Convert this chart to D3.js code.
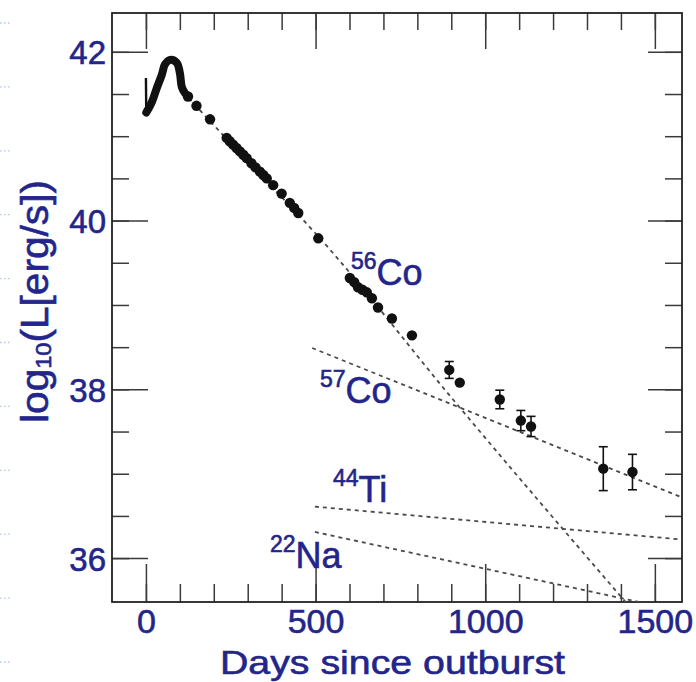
<!DOCTYPE html>
<html>
<head>
<meta charset="utf-8">
<script src="https://cdn.jsdelivr.net/npm/d3@7"></script>
<style>
  body { margin: 0; background: #fff; }
</style>
</head>
<body>
<div id="chart"></div>
<script>
// SN 1987A bolometric light curve
// initial flash (thin stroke) and the rise to the peak (thick stroke)
const flashDays = [0, 1];
const flashLog = [41.69, 41.28];
const riseDays = [1, 18, 32, 47, 56, 71, 91, 100, 106, 115];
const riseLog = [41.28, 41.41, 41.57, 41.73, 41.85, 41.905, 41.87, 41.75, 41.58, 41.51];

// later measurements (dots), with error bars where drawn
const pointDays = [124, 149, 189, 238, 247, 257, 267, 277, 287, 297, 311, 323, 336, 346, 356, 375, 400, 424, 437, 449, 508,
  601, 614, 625, 638, 651, 666, 684, 725, 784, 894, 925, 1043, 1105, 1135, 1348, 1434];
const pointLog = [41.47, 41.36, 41.20, 40.98, 40.94, 40.90, 40.86, 40.82, 40.78, 40.74, 40.68, 40.63, 40.58, 40.54, 40.50, 40.42, 40.32, 40.21, 40.15, 40.09, 39.79,
  39.32, 39.27, 39.21, 39.18, 39.15, 39.08, 38.97, 38.84, 38.64, 38.23, 38.08, 37.88, 37.63, 37.56, 37.06, 37.02];
const pointErr = [0, 0, 0, 0, 0, 0, 0, 0, 0, 0, 0, 0, 0, 0, 0, 0, 0, 0, 0, 0, 0,
  0, 0, 0, 0, 0, 0, 0, 0, 0, 0.10, 0, 0.11, 0.12, 0.12, 0.26, 0.21];

// radioactive decay contributions (dashed curves)
const isotopes = ["56Co", "57Co", "44Ti", "22Na"];
const decayDays = [
  [110, 300, 513, 905, 1420],
  [490, 1580],
  [498, 1580],
  [498, 1580]
];
const decayLog = [
  [41.52, 40.70, 39.79, 37.88, 35.45],
  [38.49, 36.72],
  [36.61, 36.22],
  [36.31, 35.37]
];

const xTicks = [0, 500, 1000, 1500];
const xMinorTicks = d3.range(0, 1501, 100);
const yTicks = [36, 38, 40, 42];
const yMinorTicks = d3.range(36, 42.01, 0.5);

const width = 696;
const height = 682;
const marginTop = 13;
const marginRight = 14;
const marginBottom = 80;
const marginLeft = 112;

const blue = "#23258a";
const font = "'Liberation Sans', Arial, sans-serif";

const x = d3.scaleLinear()
  .domain([-100, 1580])
  .range([marginLeft, width - marginRight]);

const y = d3.scaleLinear()
  .domain([35.48, 42.46])
  .range([height - marginBottom, marginTop]);

const svg = d3.select("#chart").append("svg")
  .attr("width", width)
  .attr("height", height)
  .style("background", "#fff");

// faint dotted marks at the slide's left edge
for (let i = 0; i < 11; i++) {
  svg.append("line")
    .attr("x1", 0).attr("x2", 10)
    .attr("y1", 23 + i * 63.9).attr("y2", 23 + i * 63.9)
    .attr("stroke", "#b4c6ea").attr("stroke-width", 1.3)
    .attr("stroke-dasharray", "1.5,2.5");
}

const x0 = marginLeft, x1 = width - marginRight;
const y0 = marginTop, y1 = height - marginBottom;

function styleAxis(g) {
  g.select(".domain").remove();
  g.selectAll(".tick line").attr("stroke", "#3a3a3a").attr("stroke-width", 1.5);
  g.attr("font-family", font);
  g.selectAll("text").attr("fill", blue).attr("stroke", blue).attr("stroke-width", 0.6);
}

// minor ticks on all four sides
svg.append("g").attr("transform", `translate(0,${y1})`)
  .call(d3.axisBottom(x).tickValues(xMinorTicks).tickSize(-18).tickSizeOuter(0).tickFormat(""))
  .call(styleAxis);
svg.append("g").attr("transform", `translate(0,${y0})`)
  .call(d3.axisTop(x).tickValues(xMinorTicks).tickSize(-17).tickSizeOuter(0).tickFormat(""))
  .call(styleAxis);
svg.append("g").attr("transform", `translate(${x0},0)`)
  .call(d3.axisLeft(y).tickValues(yMinorTicks).tickSize(-17).tickSizeOuter(0).tickFormat(""))
  .call(styleAxis);
svg.append("g").attr("transform", `translate(${x1},0)`)
  .call(d3.axisRight(y).tickValues(yMinorTicks).tickSize(-17).tickSizeOuter(0).tickFormat(""))
  .call(styleAxis);

// major ticks with labels
svg.append("g").attr("transform", `translate(0,${y1})`)
  .call(d3.axisBottom(x).tickValues(xTicks).tickSize(-38).tickSizeOuter(0).tickPadding(7).tickFormat(d3.format("d")))
  .call(styleAxis)
  .attr("font-size", 34);
svg.append("g").attr("transform", `translate(0,${y0})`)
  .call(d3.axisTop(x).tickValues(xTicks).tickSize(-36).tickSizeOuter(0).tickFormat(""))
  .call(styleAxis);
svg.append("g").attr("transform", `translate(${x0},0)`)
  .call(d3.axisLeft(y).tickValues(yTicks).tickSize(-36).tickSizeOuter(0).tickPadding(6).tickFormat(d3.format("d")))
  .call(styleAxis)
  .attr("font-size", 33)
  .call(g => g.selectAll("text").attr("dy", "0.36em"));
svg.append("g").attr("transform", `translate(${x1},0)`)
  .call(d3.axisRight(y).tickValues(yTicks).tickSize(-34).tickSizeOuter(0).tickFormat(""))
  .call(styleAxis);

// frame
svg.append("rect")
  .attr("x", x0).attr("y", y0)
  .attr("width", x1 - x0).attr("height", y1 - y0)
  .attr("fill", "none")
  .attr("stroke", "#222")
  .attr("stroke-width", 1.8);

svg.append("clipPath").attr("id", "plot-clip")
  .append("rect")
  .attr("x", x0).attr("y", y0)
  .attr("width", x1 - x0).attr("height", y1 - y0);

const plot = svg.append("g").attr("clip-path", "url(#plot-clip)");

const line = d3.line()
  .x(d => x(d[0]))
  .y(d => y(d[1]));

// dashed decay curves
decayDays.forEach(function (days, i) {
  const pts = days.map((d, j) => [d, decayLog[i][j]]);
  plot.append("path")
    .datum(pts)
    .attr("d", line.curve(days.length > 2 ? d3.curveMonotoneX : d3.curveLinear))
    .attr("fill", "none")
    .attr("stroke", "#4a4a4a")
    .attr("stroke-width", 1.8)
    .attr("stroke-dasharray", "4,4");
});
line.curve(d3.curveLinear);

// early light curve
plot.append("path")
  .datum(flashDays.map((d, i) => [d, flashLog[i]]))
  .attr("d", line)
  .attr("fill", "none")
  .attr("stroke", "#111")
  .attr("stroke-width", 2.4);

plot.append("path")
  .datum(riseDays.map((d, i) => [d, riseLog[i]]))
  .attr("d", line.curve(d3.curveCatmullRom))
  .attr("fill", "none")
  .attr("stroke", "#111")
  .attr("stroke-width", 8)
  .attr("stroke-linecap", "round")
  .attr("stroke-linejoin", "round");

// error bars
const points = pointDays.map((d, i) => ({ day: d, log: pointLog[i], err: pointErr[i] }));
const withErr = points.filter(p => p.err > 0);

const eb = plot.append("g").attr("stroke", "#111").attr("stroke-width", 1.6);
eb.selectAll(".bar").data(withErr).join("line")
  .attr("x1", p => x(p.day)).attr("x2", p => x(p.day))
  .attr("y1", p => y(p.log + p.err)).attr("y2", p => y(p.log - p.err));
eb.selectAll(".capTop").data(withErr).join("line")
  .attr("x1", p => x(p.day) - 4.5).attr("x2", p => x(p.day) + 4.5)
  .attr("y1", p => y(p.log + p.err)).attr("y2", p => y(p.log + p.err));
eb.selectAll(".capBot").data(withErr).join("line")
  .attr("x1", p => x(p.day) - 4.5).attr("x2", p => x(p.day) + 4.5)
  .attr("y1", p => y(p.log - p.err)).attr("y2", p => y(p.log - p.err));

// data points
plot.append("g").selectAll("circle").data(points).join("circle")
  .attr("cx", p => x(p.day))
  .attr("cy", p => y(p.log))
  .attr("r", 5.2)
  .attr("fill", "#111");

// isotope labels
const labelPos = [[351, 285], [320, 403], [333, 502], [270, 568]];
isotopes.forEach(function (name, i) {
  const mass = name.match(/\d+/)[0];
  const elem = name.replace(/\d+/, "");
  const t = svg.append("text")
    .attr("x", labelPos[i][0])
    .attr("y", labelPos[i][1])
    .attr("font-family", font)
    .attr("fill", blue)
    .attr("stroke", blue)
    .attr("stroke-width", 0.6);
  t.append("tspan").attr("font-size", 23).attr("dy", -16).text(mass);
  t.append("tspan").attr("font-size", 36).attr("dy", 16).text(elem);
});

// axis titles
svg.append("text")
  .attr("x", 392.5)
  .attr("y", 674)
  .attr("text-anchor", "middle")
  .attr("font-family", font)
  .attr("font-size", 33)
  .attr("textLength", 345)
  .attr("lengthAdjust", "spacingAndGlyphs")
  .attr("fill", blue)
  .attr("stroke", blue)
  .attr("stroke-width", 0.6)
  .text("Days since outburst");

const yt = svg.append("text")
  .attr("transform", "translate(48,301.5) rotate(-90)")
  .attr("text-anchor", "middle")
  .attr("font-family", font)
  .attr("font-size", 38)
  .attr("textLength", 243)
  .attr("lengthAdjust", "spacingAndGlyphs")
  .attr("fill", blue)
  .attr("stroke", blue)
  .attr("stroke-width", 0.6);
yt.append("tspan").text("log");
yt.append("tspan").attr("font-size", 22).attr("dy", 3).text("10");
yt.append("tspan").attr("dy", -3).text("(L[erg/s])");
</script>
</body>
</html>
